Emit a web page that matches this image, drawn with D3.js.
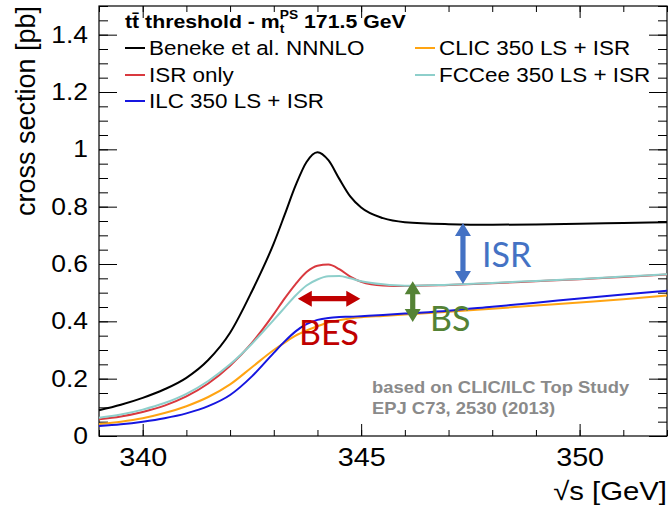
<!DOCTYPE html>
<html>
<head>
<meta charset="utf-8">
<script src="https://cdn.jsdelivr.net/npm/d3@7"></script>
<style>
  body { margin: 0; background: #fff; }
  svg { display: block; font-family: "Liberation Sans", Arial, sans-serif; }
</style>
</head>
<body>
<svg id="chart" width="669" height="505"></svg>
<script>
// sqrt(s) grid [GeV] shared by all curves
const sqrtS = [339, 339.5, 340, 340.5, 341, 341.5, 342, 342.5, 343, 343.25, 343.5, 343.75,
  344, 344.25, 344.5, 344.75, 345, 345.5, 346, 347, 348, 349, 350, 351, 352];

// cross sections [pb]
const beneke = [0.090, 0.109, 0.133, 0.163, 0.203, 0.265, 0.360, 0.505, 0.672, 0.772, 0.874, 0.956,
  0.990, 0.962, 0.897, 0.836, 0.797, 0.760, 0.746, 0.739, 0.737, 0.738, 0.740, 0.743, 0.746];
const isrOnly = [0.058, 0.068, 0.084, 0.106, 0.138, 0.183, 0.245, 0.325, 0.425, 0.480, 0.530, 0.572,
  0.594, 0.598, 0.582, 0.556, 0.538, 0.525, 0.523, 0.527, 0.533, 0.540, 0.547, 0.555, 0.563];
const ilc = [0.035, 0.041, 0.050, 0.062, 0.079, 0.104, 0.143, 0.208, 0.290, 0.330, 0.365, 0.390,
  0.405, 0.412, 0.415, 0.416, 0.418, 0.422, 0.427, 0.437, 0.451, 0.465, 0.480, 0.494, 0.507];
const clic = [0.042, 0.050, 0.062, 0.080, 0.104, 0.136, 0.180, 0.240, 0.300, 0.326, 0.350, 0.368,
  0.383, 0.396, 0.404, 0.410, 0.414, 0.419, 0.424, 0.433, 0.444, 0.455, 0.466, 0.477, 0.490];
const fccee = [0.064, 0.075, 0.092, 0.115, 0.147, 0.192, 0.250, 0.322, 0.405, 0.448, 0.490, 0.525,
  0.546, 0.557, 0.558, 0.550, 0.540, 0.529, 0.524, 0.528, 0.534, 0.541, 0.548, 0.556, 0.564];

const yTicks = [0, 0.2, 0.4, 0.6, 0.8, 1, 1.2, 1.4];
const xTicks = [340, 345, 350];

const SX = 1.15; // the original picture is a bit wide

const svg = d3.select('#chart');

const x = d3.scaleLinear().domain([339, 352]).range([99, 667]);
const y = d3.scaleLinear().domain([0, 1.5]).range([436, 6]);

const yMinor = d3.range(0, 1.5001, 0.05).map(v => +v.toFixed(2));
const xMinor = d3.range(339, 352.001, 1);

// ticks on all four sides, pointing inwards
function ticks(axis, tr, vals, size) {
  const g = svg.append('g').attr('transform', tr)
    .call(axis.tickValues(vals).tickSize(-size).tickSizeOuter(0).tickFormat(''));
  g.select('.domain').remove();
  g.selectAll('line').attr('stroke', '#000');
  return g;
}
ticks(d3.axisLeft(y), 'translate(99,0)', yMinor, 9);
ticks(d3.axisLeft(y), 'translate(99,0)', yTicks, 18);
ticks(d3.axisRight(y), 'translate(667,0)', yMinor, 9);
ticks(d3.axisRight(y), 'translate(667,0)', yTicks, 18);
ticks(d3.axisBottom(x), 'translate(0,436)', xMinor, 6);
ticks(d3.axisBottom(x), 'translate(0,436)', xTicks, 12);
ticks(d3.axisTop(x), 'translate(0,6)', xMinor, 6);
ticks(d3.axisTop(x), 'translate(0,6)', xTicks, 12);

// tick labels
const yLab = svg.append('g').attr('transform', 'translate(99,0)')
  .call(d3.axisLeft(y).tickValues(yTicks).tickSize(0).tickPadding(9.5).tickFormat(d3.format('~g')));
yLab.select('.domain').remove();
yLab.selectAll('text').attr('font-size', 23).attr('fill', '#000')
  .attr('font-family', '"Liberation Sans", Arial, sans-serif')
  .attr('transform', `scale(${SX},1)`);

const xLab = svg.append('g').attr('transform', 'translate(0,436)')
  .call(d3.axisBottom(x).tickValues(xTicks).tickSize(0).tickPadding(12).tickFormat(d3.format('d')));
xLab.select('.domain').remove();
xLab.selectAll('text').attr('font-size', 25).attr('fill', '#000')
  .attr('font-family', '"Liberation Sans", Arial, sans-serif')
  .attr('transform', `scale(${SX},1)`);

// frame
svg.append('rect')
  .attr('x', 99).attr('y', 6).attr('width', 568).attr('height', 430)
  .attr('fill', 'none').attr('stroke', '#000').attr('stroke-width', 1.2);

function stext(px, py, str, size, anchor) {
  return svg.append('g').attr('transform', `translate(${px},${py}) scale(${SX},1)`)
    .append('text').attr('text-anchor', anchor || 'start').attr('font-size', size).text(str);
}

// axis titles
stext(667, 500, '√s [GeV]', 25.5, 'end');
svg.append('text')
  .attr('transform', 'translate(35,6) rotate(-90)')
  .attr('text-anchor', 'end').attr('font-size', 27)
  .text('cross section [pb]');

// curves
const line = d3.line()
  .x((d, i) => x(sqrtS[i]))
  .y(d => y(d))
  .curve(d3.curveMonotoneX);

const series = [
  { name: 'Beneke et al. NNNLO', vals: beneke, color: '#000000' },
  { name: 'CLIC 350 LS + ISR', vals: clic, color: '#ffa412' },
  { name: 'ILC 350 LS + ISR', vals: ilc, color: '#1616e0' },
  { name: 'ISR only', vals: isrOnly, color: '#d9393f' },
  { name: 'FCCee 350 LS + ISR', vals: fccee, color: '#8ecfcb' }
];
const plot = svg.append('g');
series.forEach(s => {
  plot.append('path')
    .attr('d', line(s.vals))
    .attr('fill', 'none')
    .attr('stroke', s.color)
    .attr('stroke-width', 2);
});

// legend
const title = svg.append('g').attr('transform', `translate(125,28) scale(${SX},1)`)
  .append('text').attr('font-size', 18.5).attr('font-weight', 'bold');
title.append('tspan').text('tt\u0304 threshold - m');
title.append('tspan').attr('font-size', 12).attr('dy', 5).text('t');
title.append('tspan').attr('font-size', 12).attr('dx', -4).attr('dy', -14).text('PS');
title.append('tspan').attr('dy', 9).text(' 171.5 GeV');

const legendItems = [
  { s: series[0], lx: 125, ly: 55 },
  { s: series[3], lx: 125, ly: 82 },
  { s: series[2], lx: 125, ly: 108 },
  { s: series[1], lx: 415, ly: 55 },
  { s: series[4], lx: 415, ly: 82 }
];
legendItems.forEach(d => {
  svg.append('line')
    .attr('x1', d.lx).attr('x2', d.lx + 20)
    .attr('y1', d.ly - 7).attr('y2', d.ly - 7)
    .attr('stroke', d.s.color).attr('stroke-width', 2);
  stext(d.lx + 24, d.ly, d.s.name, 19.5);
});

// reference note
stext(372, 393, 'based on CLIC/ILC Top Study', 16).attr('font-weight', 'bold').attr('fill', '#8a8a8a');
stext(372, 414, 'EPJ C73, 2530 (2013)', 16).attr('font-weight', 'bold').attr('fill', '#8a8a8a');

// double arrows
function arrowV(e, v0, v1, color) {
  const cx = x(e), top = y(v1), bot = y(v0), hw = 8, sw = 2.6, hl = 13;
  const p = [[cx, top], [cx + hw, top + hl], [cx + sw, top + hl], [cx + sw, bot - hl], [cx + hw, bot - hl],
    [cx, bot], [cx - hw, bot - hl], [cx - sw, bot - hl], [cx - sw, top + hl], [cx - hw, top + hl]];
  svg.append('path').attr('d', 'M' + p.join('L') + 'Z').attr('fill', color);
}
function arrowH(e0, e1, v, color) {
  const cy = y(v), l = x(e0), r = x(e1), hw = 8, sw = 2.6, hl = 14;
  const p = [[l, cy], [l + hl, cy - hw], [l + hl, cy - sw], [r - hl, cy - sw], [r - hl, cy - hw],
    [r, cy], [r - hl, cy + hw], [r - hl, cy + sw], [l + hl, cy + sw], [l + hl, cy + hw]];
  svg.append('path').attr('d', 'M' + p.join('L') + 'Z').attr('fill', color);
}
arrowV(347.33, 0.530, 0.743, '#4472c4');
arrowV(346.18, 0.398, 0.540, '#548235');
arrowH(343.55, 344.98, 0.479, '#c00000');

function note(px, py, str, color) {
  svg.append('text').attr('x', px).attr('y', py)
    .attr('font-family', 'Lato, "Open Sans", sans-serif')
    .attr('font-size', 34).attr('fill', color).text(str);
}
note(482, 267, 'ISR', '#4472c4');
note(430, 331, 'BS', '#548235');
note(299, 345, 'BES', '#c00000');
</script>
</body>
</html>
